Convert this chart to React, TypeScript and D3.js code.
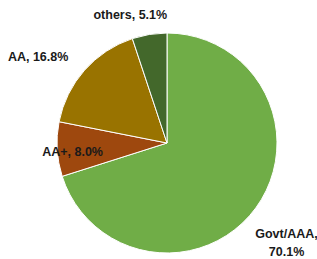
import React from "react";
import * as d3 from "d3";

const categories = ["Govt/AAA", "AA+", "AA", "others"];
const values = [70.1, 8.0, 16.8, 5.1];
const colors = ["#70AD47", "#9E480E", "#997300", "#43682B"];

const width = 317;
const height = 259;
const cx = 167;
const cy = 143;
const radius = 110;

// where each label sits: radius factor along the slice middle, plus a nudge
const labelPlace = [
  { k: 1.38, dx: -3, dy: 9 },
  { k: 0.86, dx: 0, dy: 3 },
  { k: 1.38, dx: -15, dy: 14 },
  { k: 1.18, dx: -16, dy: 0 },
];

const App = () => {
  const pie = d3
    .pie<number>()
    .sort(null)
    .value((d) => d);
  const arcs = pie(values);
  const arc = d3.arc<d3.PieArcDatum<number>>().innerRadius(0).outerRadius(radius);

  const style = {
    fontFamily: "'Liberation Sans', Arial, sans-serif",
    fontWeight: 700,
    fontSize: 12.5,
    fill: "#1a1a1a",
  };

  return (
    <svg
      width={width}
      height={height}
      style={{ position: "absolute", left: 0, top: 0, background: "#fff" }}
    >
      <g transform={`translate(${cx},${cy})`}>
        {arcs.map((a, i) => (
          <path key={categories[i]} d={arc(a) || ""} fill={colors[i]} stroke="#fff" strokeWidth={1} />
        ))}
        {arcs.map((a, i) => {
          const p = labelPlace[i];
          const lr = radius * p.k;
          const [x, y] = d3
            .arc<d3.PieArcDatum<number>>()
            .innerRadius(lr)
            .outerRadius(lr)
            .centroid(a);
          const lx = x + p.dx;
          const ly = y + p.dy;
          if (i === 0) {
            return (
              <text key={"l" + i} x={lx} y={ly} textAnchor="middle" style={style}>
                <tspan x={lx} dy={-4}>{categories[i]},</tspan>
                <tspan x={lx} dy={18}>{values[i].toFixed(1)}%</tspan>
              </text>
            );
          }
          return (
            <text key={"l" + i} x={lx} y={ly} dy="0.35em" textAnchor="middle" style={style}>
              {`${categories[i]}, ${values[i].toFixed(1)}%`}
            </text>
          );
        })}
      </g>
    </svg>
  );
};

export default App;
